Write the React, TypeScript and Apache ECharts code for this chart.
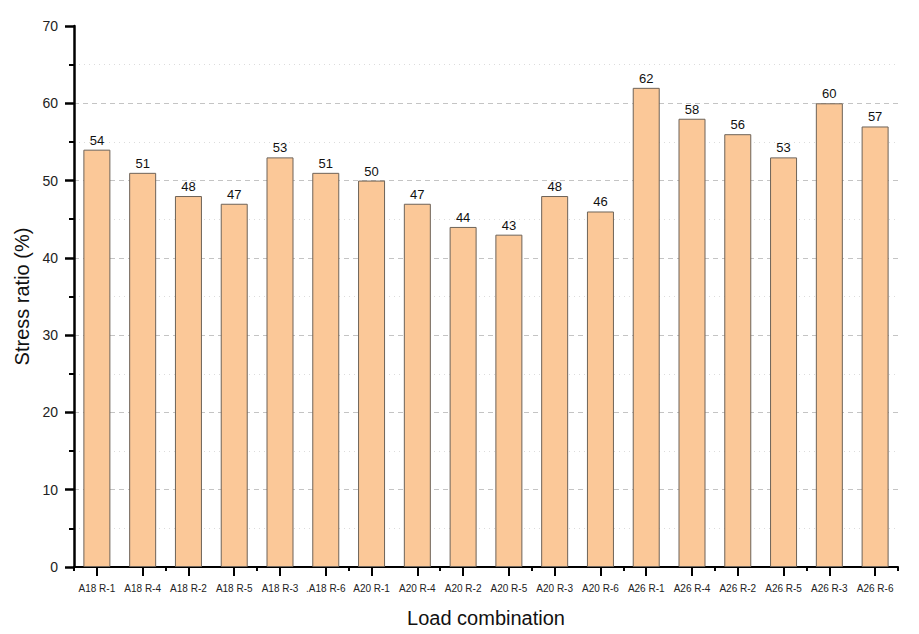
import React, { useEffect, useRef } from "react";
import * as echarts from "echarts";

const categories = [
  "A18 R-1", "A18 R-4", "A18 R-2", "A18 R-5", "A18 R-3", ".A18 R-6",
  "A20 R-1", "A20 R-4", "A20 R-2", "A20 R-5", "A20 R-3", "A20 R-6",
  "A26 R-1", "A26 R-4", "A26 R-2", "A26 R-5", "A26 R-3", "A26 R-6",
];
const stressRatio = [54, 51, 48, 47, 53, 51, 50, 47, 44, 43, 48, 46, 62, 58, 56, 53, 60, 57];

export default function App() {
  const ref = useRef<HTMLDivElement>(null);
  useEffect(() => {
    if (!ref.current) return;
    const chart = echarts.init(ref.current, null, { renderer: "svg" });
    const font = "Arial, 'Liberation Sans', sans-serif";
    chart.setOption({
      animation: false,
      backgroundColor: "#ffffff",
      textStyle: { fontFamily: font },
      grid: { left: 74, right: 21, top: 26, bottom: 67, containLabel: false },
      xAxis: [
        {
          type: "category",
          data: categories,
          position: "bottom",
          boundaryGap: true,
          axisLine: { show: true, lineStyle: { color: "#000", width: 2 } },
          axisTick: { show: true, alignWithLabel: true, length: 9, lineStyle: { color: "#000", width: 2 } },
          axisLabel: { color: "#222", fontSize: 10, margin: 16, fontFamily: font, interval: 0 },
          name: "Load combination",
          nameLocation: "middle",
          nameGap: 41,
          nameTextStyle: { fontSize: 20, color: "#111", fontFamily: font },
          splitLine: { show: false },
        },
        {
          type: "category",
          data: categories,
          position: "bottom",
          boundaryGap: true,
          axisLine: { show: false },
          axisTick: { show: true, alignWithLabel: false, length: 4, lineStyle: { color: "#000", width: 2 } },
          axisLabel: { show: false },
          splitLine: { show: false },
        },
      ],
      yAxis: {
        type: "value",
        min: 0,
        max: 70,
        interval: 10,
        axisLine: { show: true, lineStyle: { color: "#000", width: 2.5 } },
        axisTick: { show: true, length: 9, lineStyle: { color: "#000", width: 2.5 } },
        minorTick: { show: true, splitNumber: 2, length: 5, lineStyle: { color: "#000", width: 2 } },
        axisLabel: { color: "#222", fontSize: 14, margin: 16, fontFamily: font },
        splitLine: { show: true, showMaxLine: false, showMinLine: false, lineStyle: { color: "#c4c4c4", type: [5, 4], width: 1 } },
        minorSplitLine: { show: true, lineStyle: { color: "#dcdcdc", type: [1, 4], width: 1 } },
        name: "Stress ratio (%)",
        nameLocation: "middle",
        nameGap: 38,
        nameTextStyle: { fontSize: 20, color: "#111", fontFamily: font },
      },
      series: [
        {
          type: "bar",
          data: stressRatio,
          xAxisIndex: 0,
          barWidth: 27,
          itemStyle: { color: "#fbc898", borderColor: "#6e6358", borderWidth: 1 },
          label: { show: true, position: "top", distance: 3, color: "#111", fontSize: 13, fontFamily: font },
        },
      ],
    });
    return () => chart.dispose();
  }, []);
  return <div ref={ref} style={{ width: 919, height: 634, position: "absolute", left: 0, top: 0 }} />;
}
